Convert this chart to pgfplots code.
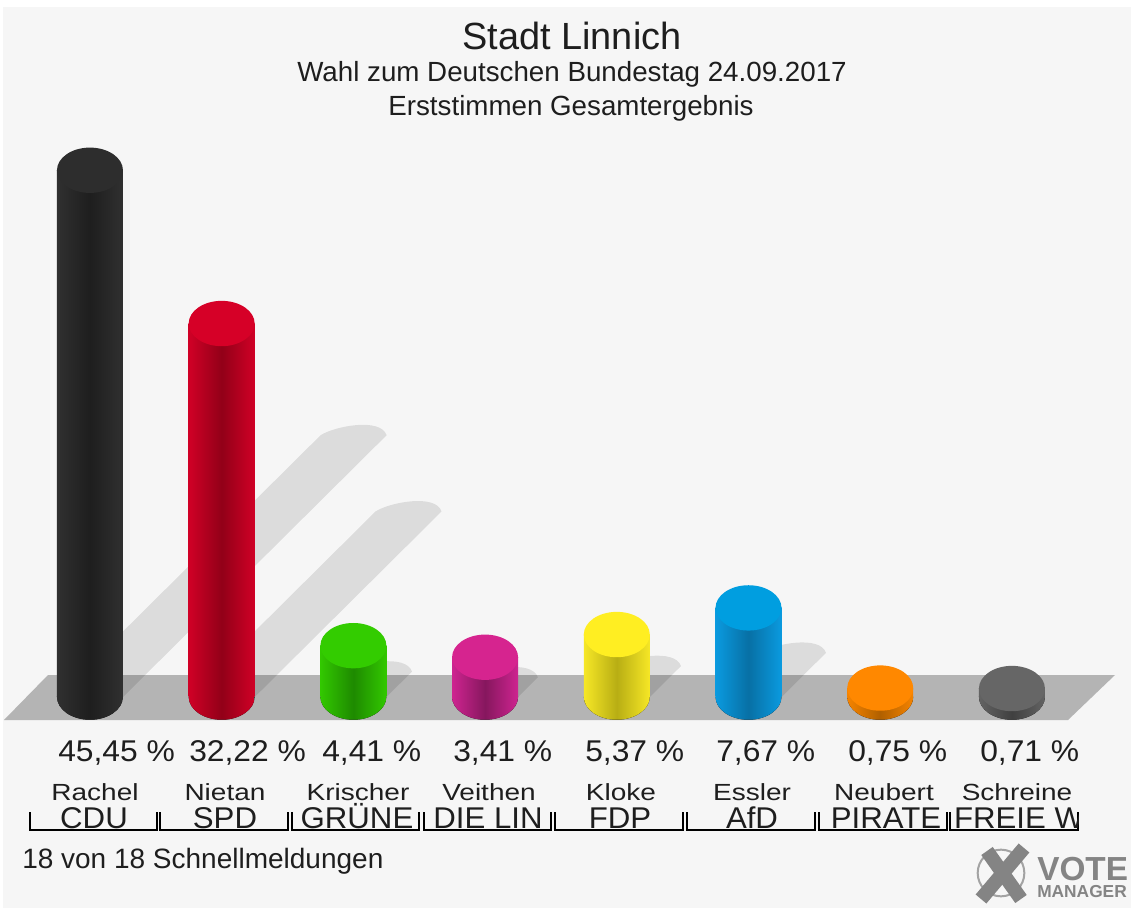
\documentclass[border=0pt]{standalone}
\usepackage{fontspec}
\setmainfont{Liberation Sans}
\usepackage{graphicx}
\usepackage{pgfplots}
\pgfplotsset{compat=1.18}

\definecolor{bg}{HTML}{F6F6F6}
\definecolor{floorc}{HTML}{B4B4B4}
\definecolor{txt}{HTML}{1E1E1E}
\definecolor{logo}{HTML}{848484}

% flat top of a cylinder, sits on the data point
\pgfdeclareplotmark{topcap}{%
  \pgfpathellipse{\pgfpointorigin}{\pgfqpoint{24.75pt}{0pt}}{\pgfqpoint{0pt}{17pt}}%
  \pgfusepathqfill}

% #1 index, #2 value, #3 side colour, #4 dark centre, #5 top colour
\newcommand{\cyl}[5]{%
  \definecolor{side#1}{HTML}{#3}%
  \definecolor{dark#1}{HTML}{#4}%
  \definecolor{top#1}{HTML}{#5}%
  \fill[left color=side#1, right color=side#1, middle color=dark#1]
    (axis cs:#1,0) ++(-24.75pt,0pt)
    arc[start angle=180,end angle=360,x radius=24.75pt,y radius=17.25pt] -- cycle;
  \addplot[ybar, bar shift=0pt, bar width=49.5pt, draw=none,
    left color=side#1, right color=side#1, middle color=dark#1] coordinates {(#1,#2)};
  \addplot[only marks, mark=topcap, mark options={fill=top#1}] coordinates {(#1,#2)};
}

\newcommand{\lab}[3]{\node[anchor=#1,text=txt,inner sep=0pt,font=\fontsize{#2}{#2}\selectfont] #3}

\begin{document}
\begin{tikzpicture}[x=0.75pt,y=0.75pt]
\path[use as bounding box] (0,0) rectangle (1131,911);
\fill[white] (0,0) rectangle (1131,911);
\fill[bg] (3,3) rectangle (1131,904);
% floor
\fill[floorc] (4,911-720) -- (1068,911-720) -- (1115,911-675) -- (48,911-675) -- cycle;
% shadows
\foreach \i/\v in {0/45.45,1/32.22,2/4.41,3/3.41,4/5.37,5/7.67}{
  \pgfmathsetmacro{\xa}{90+131.7*\i}
  \pgfmathsetmacro{\xb}{\xa+5.8*\v}
  \pgfmathsetmacro{\yb}{214+5.76*\v}
  \fill[black,opacity=0.1] (\xa-33,214) -- (\xb-33,\yb)
    .. controls (\xb-19,\yb+9) and (\xb+27,\yb+18) .. (\xb+33,\yb)
    -- (\xa+33,214) -- cycle;
}

\begin{axis}[
  at={(0,0)}, anchor=south west,
  scale only axis,
  width=848.25pt, height=683.25pt,
  xmin=-0.683, xmax=7.904,
  ymin=-18.496, ymax=60.15,
  axis lines=none,
  clip=false,
  ]
\cyl{0}{45.45}{303030}{1E1E1E}{2D2D2D}
\cyl{1}{32.22}{D00026}{920018}{D60027}
\cyl{2}{4.41}{32C800}{1E8A00}{33CC00}
\cyl{3}{3.41}{CE2490}{86175E}{D6248F}
\cyl{4}{5.37}{F6E726}{B8AE14}{FFEE22}
\cyl{5}{7.67}{0A9ADF}{0870A5}{009EE0}
\cyl{6}{0.75}{F58300}{B06000}{FF8800}
\cyl{7}{0.71}{636363}{404040}{666666}
\end{axis}

% titles
\lab{center}{28.4pt}{at (572,911-36) {Stadt Linnich};}
\lab{center}{20.8pt}{at (572,911-74) {Wahl zum Deutschen Bundestag 24.09.2017};}
\lab{center}{20.8pt}{at (571,911-108) {Erststimmen Gesamtergebnis};}

% values
\foreach \x/\t in {58/{45,45 \%},189/{32,22 \%},322/{4,41 \%},453/{3,41 \%},585/{5,37 \%},716/{7,67 \%},848/{0,75 \%},980/{0,71 \%}}{
  \node[anchor=west,text=txt,inner sep=0pt,font=\fontsize{22.5pt}{22.5pt}\selectfont] at (\x,911-753) {\scalebox{1.06}[1]{\t}};
}
% candidates
\foreach \x/\t in {95/Rachel,225/Nietan,358/Krischer,489/Veithen,621/Kloke,752/Essler,884/Neubert,1017/Schreine}{
  \node[anchor=center,text=txt,inner sep=0pt,font=\fontsize{17.5pt}{17.5pt}\selectfont] at (\x,911-792) {\scalebox{1.2}[1]{\t}};
}
% parties with their brackets, \o is the label's centre
\foreach \a/\b/\o/\t in {30/157/94/CDU,160/288/225/SPD,292/419/357/GRÜNE,424/551/488/DIE LIN,555/683/620/FDP,687/815/752/AfD,819/947/886/PIRATE,950/1078/1019/FREIE W}{
  \draw[black,line width=1.2pt] (\a,911-812) -- (\a,911-830) -- (\b,911-830) -- (\b,911-812);
  \begin{scope}
    \clip (\a,911-835) rectangle (\b,911-800);
    \node[anchor=base,text=txt,inner sep=0pt,font=\fontsize{22.5pt}{22.5pt}\selectfont] at (\o,911-828) {\scalebox{1.04}[1]{\t}};
  \end{scope}
}
% footer
\lab{west}{21pt}{at (22,911-861) {18 von 18 Schnellmeldungen};}

% logo
\draw[logo!75,line width=1.5pt] (1001,911-873) circle[radius=17.5pt];
\draw[logo,line width=10.5pt] (987,911-851) -- (1021,911-899);
\draw[logo,line width=10.5pt] (1024,911-848) -- (981,911-899);
\begin{scope}
  \clip (0,0) rectangle (1131,911);
  \node[anchor=base west,text=logo,inner sep=0pt,font=\fontsize{25pt}{25pt}\selectfont\bfseries] at (1037,911-880) {VOTE};
  \node[anchor=base west,text=logo,inner sep=0pt,font=\fontsize{13pt}{13pt}\selectfont\bfseries] at (1037,911-897) {MANAGER};
\end{scope}
\end{tikzpicture}
\end{document}
